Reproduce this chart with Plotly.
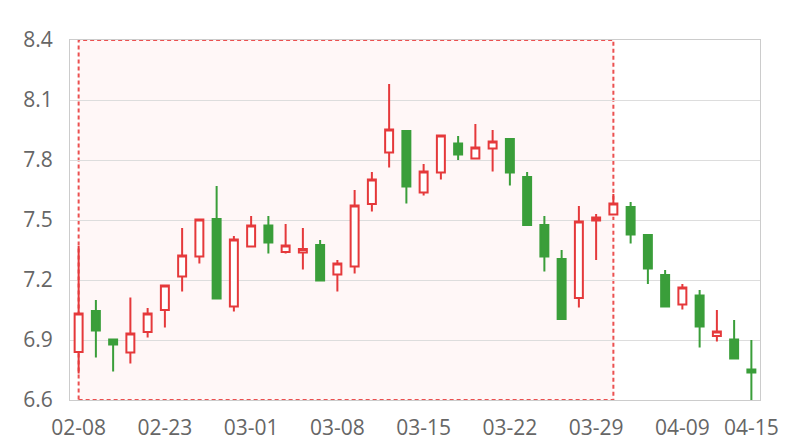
import plotly.graph_objects as go

dates = ["02-08", "02-09", "02-10", "02-18", "02-22", "02-23", "02-24", "02-25", "02-26", "02-27",
         "03-01", "03-02", "03-03", "03-04", "03-05", "03-08", "03-09", "03-10", "03-11", "03-12",
         "03-15", "03-16", "03-17", "03-18", "03-19", "03-22", "03-23", "03-24", "03-25", "03-26",
         "03-29", "03-30", "03-31", "04-01", "04-08", "04-09", "04-12", "04-13", "04-14", "04-15"]

open_ = [6.84, 7.045, 6.903, 6.838, 6.94, 7.05, 7.218, 7.318, 7.505, 7.068,
         7.368, 7.473, 7.34, 7.338, 7.375, 7.228, 7.268, 7.58, 7.838, 7.945,
         7.638, 7.738, 7.883, 7.808, 7.858, 7.905, 7.715, 7.475, 7.305, 7.11,
         7.498, 7.528, 7.565, 7.425, 7.225, 7.078, 7.123, 6.92, 6.903, 6.753]
close = [7.033, 6.947, 6.878, 6.932, 7.033, 7.173, 7.322, 7.503, 7.107, 7.403,
         7.472, 7.388, 7.372, 7.355, 7.197, 7.282, 7.572, 7.702, 7.952, 7.667,
         7.742, 7.923, 7.827, 7.863, 7.892, 7.737, 7.475, 7.317, 7.005, 7.492,
         7.513, 7.583, 7.427, 7.257, 7.067, 7.163, 6.967, 6.942, 6.807, 6.737]
high = [7.37, 7.10, 6.908, 7.112, 7.06, 7.173, 7.46, 7.508, 7.67, 7.42,
        7.52, 7.52, 7.48, 7.46, 7.40, 7.30, 7.65, 7.74, 8.18, 7.95,
        7.78, 7.928, 7.92, 7.98, 7.95, 7.908, 7.74, 7.52, 7.35, 7.57,
        7.53, 7.63, 7.59, 7.425, 7.25, 7.18, 7.15, 7.05, 7.00, 6.90]
low = [6.733, 6.812, 6.742, 6.783, 6.913, 6.962, 7.142, 7.283, 7.103, 7.042,
       7.362, 7.332, 7.332, 7.252, 7.197, 7.142, 7.232, 7.542, 7.763, 7.582,
       7.622, 7.702, 7.80, 7.808, 7.742, 7.672, 7.47, 7.242, 7.00, 7.062,
       7.30, 7.522, 7.382, 7.18, 7.067, 7.052, 6.862, 6.892, 6.802, 6.60]

tick_labels = ["02-08", "02-23", "03-01", "03-08", "03-15", "03-22", "03-29", "04-09", "04-15"]
y_ticks = [6.6, 6.9, 7.2, 7.5, 7.8, 8.1, 8.4]
mark_area = ["02-08", "03-30"]

RED = "#e5393b"
GREEN = "#3a9e3a"

fig = go.Figure()
fig.add_trace(go.Candlestick(
    x=dates, open=open_, high=high, low=low, close=close,
    increasing=dict(line=dict(color=RED, width=2), fillcolor="#ffffff"),
    decreasing=dict(line=dict(color=GREEN, width=2), fillcolor=GREEN),
    whiskerwidth=0, showlegend=False, hoverinfo="skip",
))

x0 = dates.index(mark_area[0])
x1 = dates.index(mark_area[1])
fig.add_shape(type="rect", xref="x", yref="y domain", x0=x0, x1=x1, y0=0, y1=1,
              fillcolor="rgba(255,200,200,0.15)",
              line=dict(color="rgba(232,50,50,0.85)", width=2, dash="4px,3px"),
              layer="below")

font = dict(family="Open Sans, Segoe UI, sans-serif", size=21, color="#666666")
fig.update_layout(
    width=800, height=440,
    margin=dict(l=70, r=40, t=40, b=40),
    paper_bgcolor="white", plot_bgcolor="white",
    boxgap=0.34,
    font=font,
    xaxis=dict(type="category", categoryorder="array", categoryarray=dates,
               range=[-0.5, len(dates) - 0.5], rangeslider=dict(visible=False),
               tickmode="array", tickvals=tick_labels, ticktext=tick_labels,
               showgrid=False, showline=True, linecolor="#cccccc", mirror=True,
               ticks="outside", ticklen=9, tickcolor="rgba(0,0,0,0)",
               tickfont=font, automargin=False),
    yaxis=dict(range=[6.6, 8.4], tickmode="array", tickvals=y_ticks,
               ticktext=[f"{v:.1f}" for v in y_ticks],
               showgrid=True, gridcolor="#dddddd", gridwidth=1,
               showline=True, linecolor="#cccccc", mirror=True,
               zeroline=False, ticks="outside", ticklen=12, tickcolor="rgba(0,0,0,0)",
               tickfont=font, automargin=False),
)

fig.write_html("out.html", config={"displayModeBar": False},
               post_script="document.body.style.margin='0';document.body.style.overflow='hidden';")
